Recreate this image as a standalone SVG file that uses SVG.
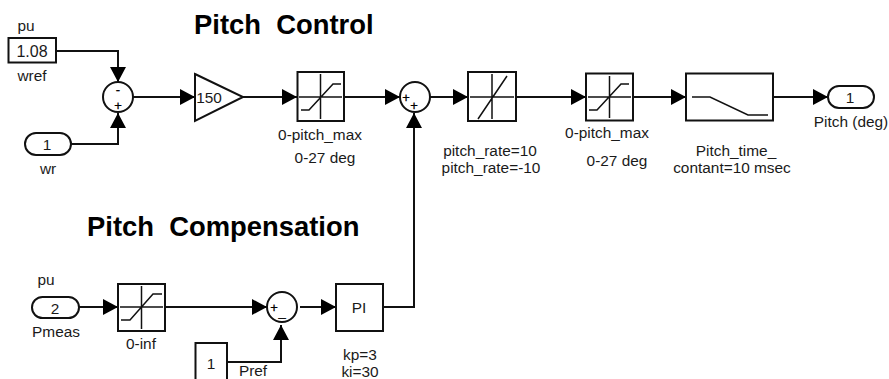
<svg xmlns="http://www.w3.org/2000/svg" width="889" height="379" viewBox="0 0 889 379">
<defs>
<marker id="arr" markerUnits="userSpaceOnUse" markerWidth="15" markerHeight="16" refX="15" refY="8" orient="auto"><path d="M0,0L15,8L0,16Z" fill="#000"/></marker>
</defs>
<style>
text{font-family:"Liberation Sans",Arial,sans-serif;font-size:15.400px;fill:#1a1a1a;text-anchor:middle}
.t{font-size:27.400px;font-weight:700;fill:#000;text-anchor:start;white-space:pre}
.b{fill:#fff;stroke:#111;stroke-width:2}
.g{fill:none;stroke:#111;stroke-width:1.5}
.c{fill:none;stroke:#111;stroke-width:2}
.s{font-size:13px;fill:#000;stroke:#000;stroke-width:.3}
</style>
<rect width="889" height="379" fill="#fff"/>
<g id="connectors">
<path class="c" marker-end="url(#arr)" d="M56,51H118V82"/>
<path class="c" marker-end="url(#arr)" d="M71,144H118V113"/>
<path class="c" marker-end="url(#arr)" d="M133,97H195"/>
<path class="c" marker-end="url(#arr)" d="M243,97H297"/>
<path class="c" marker-end="url(#arr)" d="M344,97H400"/>
<path class="c" marker-end="url(#arr)" d="M430,97H468"/>
<path class="c" marker-end="url(#arr)" d="M516,97H586"/>
<path class="c" marker-end="url(#arr)" d="M633,97H686"/>
<path class="c" marker-end="url(#arr)" d="M773,97H828"/>
<path class="c" marker-end="url(#arr)" d="M79,307H118"/>
<path class="c" marker-end="url(#arr)" d="M165,307H267"/>
<path class="c" marker-end="url(#arr)" d="M300,307H336"/>
<path class="c" marker-end="url(#arr)" d="M383,307H414V113"/>
<path class="c" marker-end="url(#arr)" d="M227,362H281V325"/>
</g>
<g id="title1"><text class="t" x="194" y="34">Pitch  Control</text></g>
<g id="title2"><text class="t" x="87" y="236">Pitch  Compensation</text></g>
<g id="wref">
<rect class="b" x="8.500" y="38" width="47.500" height="24.500"/>
<text x="32" y="57" style="font-size:16px">1.08</text>
<text x="26" y="31">pu</text>
<text x="32" y="81">wref</text>
</g>
<g id="wr">
<rect class="b" x="25" y="133" width="46" height="22" rx="11"/>
<text x="47" y="150">1</text>
<text x="48" y="174">wr</text>
</g>
<g id="sum1">
<circle class="b" cx="118" cy="97" r="15"/>
<text class="s" x="118" y="94">-</text>
<text class="s" x="118" y="110">+</text>
</g>
<g id="gain">
<path class="b" d="M195,74L243,97L195,121Z"/>
<text x="209" y="103">150</text>
</g>
<g id="sat1">
<rect class="b" x="297.500" y="72" width="46.500" height="49"/>
<path class="g" d="M320.500,74V119M299,97H342M301,110H309L333,84H341"/>
<text x="320" y="140">0-pitch_max</text>
<text x="325" y="163">0-27 deg</text>
</g>
<g id="sum2">
<circle class="b" cx="415" cy="97" r="15"/>
<text class="s" x="406" y="102">+</text>
<text class="s" x="414" y="110">+</text>
</g>
<g id="rate">
<rect class="b" x="468" y="72" width="48" height="49"/>
<path class="g" d="M492,74V119M470,97H514M478,119L507,76"/>
<text x="490" y="156">pitch_rate=10</text>
<text x="491" y="173">pitch_rate=-10</text>
</g>
<g id="sat2">
<rect class="b" x="586" y="73.500" width="47" height="47"/>
<path class="g" d="M609.500,76V118M588,97H631M589,110H597L621,84H629"/>
<text x="607" y="138">0-pitch_max</text>
<text x="617" y="166">0-27 deg</text>
</g>
<g id="transfer">
<rect class="b" x="686" y="73.500" width="87" height="47"/>
<path class="g" d="M692,97H710L748,115H768"/>
<text x="736" y="156">Pitch_time_</text>
<text x="732" y="173">contant=10 msec</text>
</g>
<g id="pitchOut">
<rect class="b" x="828" y="86" width="46" height="22" rx="11"/>
<text x="850" y="103">1</text>
<text x="851" y="127">Pitch (deg)</text>
</g>
<g id="pmeas">
<rect class="b" x="32" y="297" width="47" height="21" rx="10.500"/>
<text x="55" y="314">2</text>
<text x="46" y="285">pu</text>
<text x="56" y="337">Pmeas</text>
</g>
<g id="sat3">
<rect class="b" x="118" y="284" width="47" height="47"/>
<path class="g" d="M141.500,286V329M120,307H163M121,320H130L153,294H162"/>
<text x="141" y="349">0-inf</text>
</g>
<g id="sum3">
<circle class="b" cx="282" cy="307" r="15"/>
<text class="s" x="274" y="312">+</text>
<text class="s" x="282" y="316">_</text>
</g>
<g id="pi">
<rect class="b" x="336" y="284" width="47" height="47"/>
<text x="359" y="313">PI</text>
<text x="360" y="360">kp=3</text>
<text x="360" y="377">ki=30</text>
</g>
<g id="pref">
<rect class="b" x="195.500" y="343" width="31.500" height="40"/>
<text x="211" y="369">1</text>
<text x="253" y="376">Pref</text>
</g>
</svg>
